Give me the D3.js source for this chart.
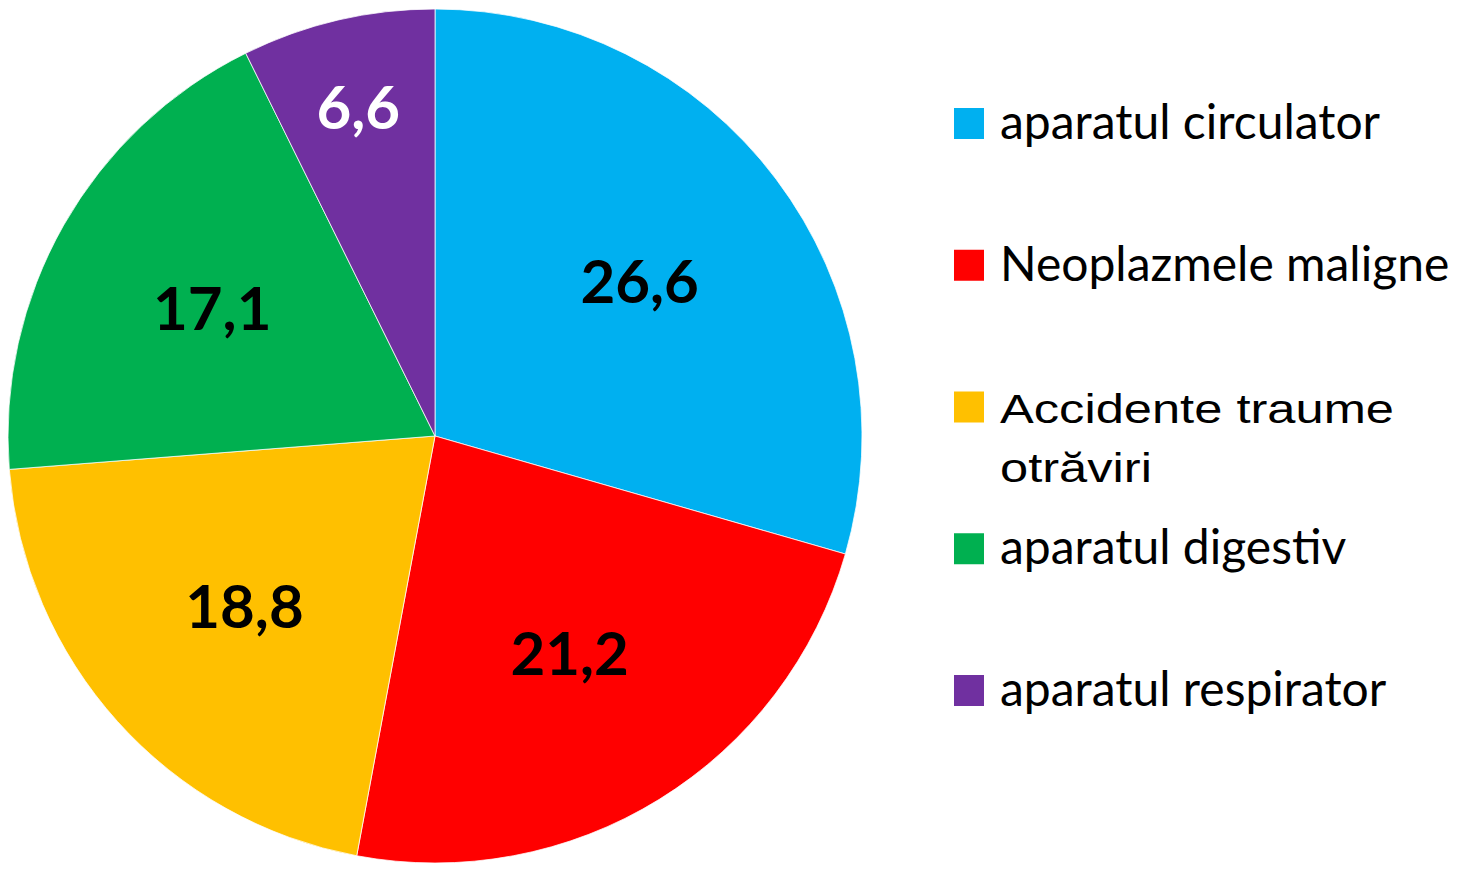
<!DOCTYPE html>
<html lang="ro">
<head>
    <meta charset="UTF-8">
    <title>Pie</title>
    <script src="https://d3js.org/d3.v7.min.js"></script>
    <style>
        body { margin: 0; background: #fff; }
    </style>
</head>
<body>
<svg id="chart"></svg>
<script>
    // categorii si valori
    var categories = ["aparatul circulator", "Neoplazmele maligne", "Accidente traume otrăviri", "aparatul digestiv", "aparatul respirator"];
    var values = [26.6, 21.2, 18.8, 17.1, 6.6];
    var colors = ["#00B0F0", "#FF0000", "#FFC000", "#00B050", "#7030A0"];
    var labelColors = ["#000", "#000", "#000", "#000", "#fff"];

    (function() {
        var width = 1457;
        var height = 872;
        var cx = 435, cy = 436, r = 427;

        var svg = d3.select("#chart")
            .attr("width", width)
            .attr("height", height);

        var pie = d3.pie().sort(null).value(function(d) { return d.value; });
        var arc = d3.arc().innerRadius(0).outerRadius(r);

        var data = categories.map(function(c, i) {
            return { name: c, value: values[i], color: colors[i], label: labelColors[i] };
        });
        var arcs = pie(data);

        var g = svg.append("g").attr("transform", "translate(" + cx + "," + cy + ")");

        g.selectAll("path")
            .data(arcs)
            .enter()
            .append("path")
            .attr("d", arc)
            .attr("fill", function(d) { return d.data.color; })
            .attr("stroke", "#fff")
            .attr("stroke-width", 0.75);

        // etichete: felii mici mai spre margine
        function labelPos(d) {
            var small = (d.endAngle - d.startAngle) < 0.6;
            var lr = small ? r * 0.79 : r * 0.6;
            return d3.arc().innerRadius(lr).outerRadius(lr).centroid(d);
        }

        g.selectAll("text.val")
            .data(arcs)
            .enter()
            .append("text")
            .attr("class", "val")
            .attr("x", function(d) { return labelPos(d)[0]; })
            .attr("y", function(d) { return labelPos(d)[1]; })
            .attr("dy", "0.35em")
            .attr("text-anchor", "middle")
            .attr("font-family", "Lato, 'Open Sans', sans-serif")
            .attr("font-weight", "bold")
            .attr("font-size", 60)
            .attr("fill", function(d) { return d.data.label; })
            .text(function(d) { return String(d.data.value).replace(".", ","); });

        // legenda
        var ly = d3.scalePoint().domain(categories).range([139, 706]);
        var leg = svg.append("g");
        var item = leg.selectAll("g")
            .data(data)
            .enter()
            .append("g")
            .attr("transform", function(d) { return "translate(954," + ly(d.name) + ")"; });

        item.append("rect")
            .attr("x", 0)
            .attr("y", -31)
            .attr("width", 30)
            .attr("height", 31)
            .attr("fill", function(d) { return d.color; });

        item.each(function(d, i) {
            if (i === 2) {
                // eticheta pe doua randuri, alt font, latit pe orizontala
                var t = d3.select(this).append("text")
                    .attr("transform", "translate(46,0) scale(1.235,1)")
                    .attr("fill", "#000")
                    .attr("font-family", "'Liberation Sans', Arial, sans-serif")
                    .attr("font-size", 41);
                t.append("tspan").attr("x", 0).attr("y", 0).text("Accidente traume");
                t.append("tspan").attr("x", 0).attr("y", 60).text("otrăviri");
            } else {
                d3.select(this).append("text")
                    .attr("x", 46)
                    .attr("y", 0)
                    .attr("fill", "#000")
                    .attr("font-family", "Lato, 'Open Sans', sans-serif")
                    .attr("font-size", 48)
                    .text(d.name);
            }
        });
    })();
</script>
</body>
</html>
